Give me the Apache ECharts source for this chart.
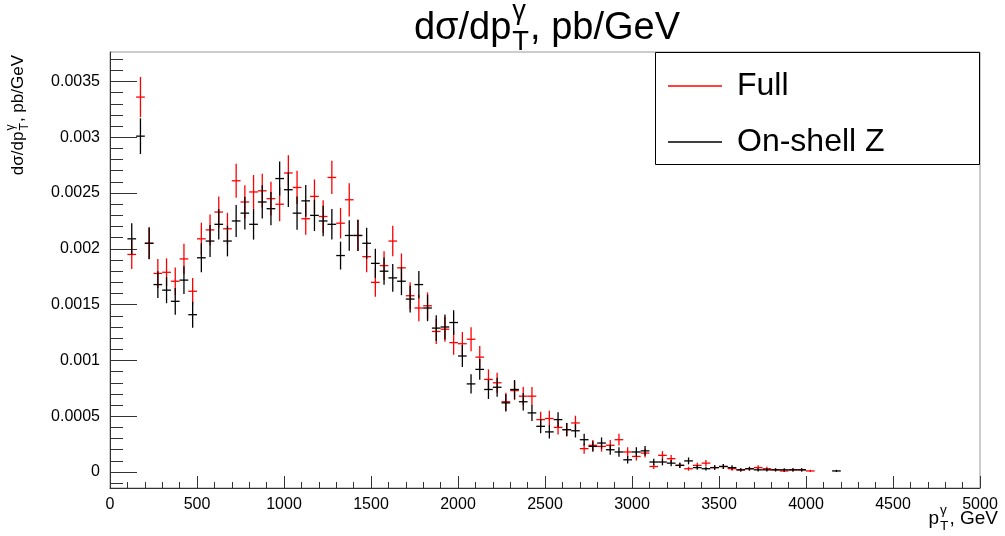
<!DOCTYPE html>
<html>
<head>
<meta charset="utf-8">
<script src="https://cdn.jsdelivr.net/npm/echarts@6/dist/echarts.min.js"></script>
<style>html,body{margin:0;padding:0;background:#fff}#c{width:1005px;height:536px}</style>
</head>
<body>
<div id="c"></div>
<script>
// ---- data (bin centers in GeV, bin width 50 GeV) ----
const binCenters = [
  125,175,225,275,325,375,425,475,525,575,
  625,675,725,775,825,875,925,975,1025,1075,
  1125,1175,1225,1275,1325,1375,1425,1475,1525,1575,
  1625,1675,1725,1775,1825,1875,1925,1975,2025,2075,
  2125,2175,2225,2275,2325,2375,2425,2475,2525,2575,
  2625,2675,2725,2775,2825,2875,2925,2975,3025,3075,
  3125,3175,3225,3275,3325,3375,3425,3475,3525,3575,
  3625,3675,3725,3775,3825,3875,3925,3975,4025,4075,
  4125,4175
];
const binWidth = 50;
const fullValues = [
  0.00195,0.00336,0.00205,0.00178,0.00179,0.00171,0.00191,0.00162,0.00209,0.00217,
  0.00233,0.00218,0.00261,0.00242,0.00251,0.00252,0.00245,0.00240,0.00268,0.00255,
  0.00227,0.00247,0.00229,0.00264,0.00223,0.00244,0.00212,0.00193,0.00170,0.00185,
  0.00207,0.00183,0.00158,0.00147,0.00149,0.00126,0.00128,0.00116,0.00115,0.00119,
  0.00103,0.00083,0.00080,0.00063,0.00073,0.00068,0.00068,0.00047,0.00048,0.00040,
  0.00038,0.00044,0.00021,0.00024,0.00023,0.00024,0.00029,0.00018,0.00014,0.00017,
  0.00005,0.00015,0.00012,0.00006,0.00003,0.00006,0.00008,0.00004,0.00005,0.00003,
  0.00002,0.00003,0.00004,0.00003,0.00002,0.00001,0.00002,0.00002,0.00001,null,
  null,null
];
const fullErrors = [
  0.00013,0.00018,0.00014,0.00013,0.000125,0.000123,0.000135,0.00012,0.000143,0.000137,
  0.00014,0.000143,0.000152,0.000149,0.000152,0.000152,0.000152,0.000152,0.000158,0.000149,
  0.000143,0.000152,0.000145,0.000149,0.000137,0.000149,0.00014,0.00014,0.000128,0.000128,
  0.000137,0.000128,0.00012,0.000119,0.00012,0.000112,0.000112,0.000108,0.000105,0.000108,
  0.0001,0.00009,0.00009,0.00008,0.000085,0.000082,0.000082,0.00007,0.00007,0.000063,
  0.00006,0.000065,0.000045,0.000048,0.000047,0.000048,0.000053,0.000042,0.000037,0.00004,
  0.000022,0.000038,0.000034,0.000024,0.000018,0.000024,0.000028,0.00002,0.000022,0.000018,
  0.000014,0.000017,0.00002,0.000017,0.000014,0.00001,0.000014,0.000014,0.00001,null,
  null,null
];
const zValues = [
  0.00209,0.00301,0.00205,0.00168,0.00163,0.00153,0.00172,0.00141,0.00192,0.00207,
  0.00222,0.00207,0.00225,0.00232,0.00222,0.00242,0.00236,0.00263,0.00253,0.00232,
  0.00243,0.00230,0.00225,0.00222,0.00194,0.00212,0.00212,0.00205,0.00187,0.00180,
  0.00174,0.00171,0.00155,0.00168,0.00147,0.00129,0.00130,0.00134,0.00104,0.00079,
  0.00092,0.00074,0.00076,0.00062,0.00074,0.00063,0.00053,0.00041,0.00036,0.00047,
  0.00038,0.00037,0.00029,0.00023,0.00026,0.00020,0.00018,0.00011,0.00018,0.00019,
  0.00009,0.00009,0.00008,0.00006,0.00010,0.00004,0.00003,0.00004,0.00005,0.00004,
  0.00002,0.00003,0.00002,0.00002,0.00002,0.00002,0.00002,0.00002,null,null,
  null,0.00001
];
const zErrors = [
  0.00014,0.00016,0.000143,0.00012,0.000117,0.00012,0.000125,0.000117,0.00013,0.000143,
  0.000137,0.000137,0.000143,0.000146,0.000137,0.000149,0.000149,0.000152,0.000155,0.000149,
  0.000143,0.00014,0.000137,0.000137,0.000125,0.000137,0.00014,0.00014,0.000131,0.000122,
  0.000125,0.000125,0.00012,0.000122,0.000118,0.000115,0.000112,0.00011,0.000099,0.000087,
  0.000093,0.000085,0.000085,0.000078,0.000085,0.000078,0.000072,0.000063,0.000059,0.000067,
  0.00006,0.00006,0.000053,0.000047,0.00005,0.000044,0.000042,0.000033,0.000042,0.000043,
  0.00003,0.00003,0.000028,0.000024,0.000031,0.00002,0.000017,0.00002,0.000022,0.00002,
  0.000014,0.000017,0.000014,0.000014,0.000014,0.000014,0.000014,0.000014,null,null,
  null,0.00001
];
const yMajorTicks = [0,0.0005,0.001,0.0015,0.002,0.0025,0.003,0.0035];
const yMinorTicks = [-0.0001,0,0.0001,0.0002,0.0003,0.0004,0.0005,0.0006,0.0007,0.0008,0.0009,0.001,
  0.0011,0.0012,0.0013,0.0014,0.0015,0.0016,0.0017,0.0018,0.0019,0.002,0.0021,0.0022,0.0023,0.0024,
  0.0025,0.0026,0.0027,0.0028,0.0029,0.003,0.0031,0.0032,0.0033,0.0034,0.0035,0.0036,0.0037];
const seriesNames = ['Full','On-shell Z'];
const seriesColors = ['#ff0000','#000000'];

// ---- helpers ----
const FONT = '"Liberation Sans", Arial, sans-serif';
const mctx = document.createElement('canvas').getContext('2d');
function tw(s, size){ mctx.font = size + 'px ' + FONT; return mctx.measureText(s).width; }
function buildLabel(parts, size){
  let x = 0; const children = [];
  const ss = size * 0.72;
  parts.forEach(p => {
    if (p.text !== undefined) {
      children.push({type:'text', x:x, y:0, style:{text:p.text, font:size+'px '+FONT, fill:'#000', align:'left', verticalAlign:'middle'}});
      x += tw(p.text, size);
    } else {
      children.push({type:'text', x:x+1, y:-0.45*size, style:{text:p.sup, font:ss+'px '+FONT, fill:'#000', align:'left', verticalAlign:'middle'}});
      children.push({type:'text', x:x+1, y:0.36*size, style:{text:p.sub, font:ss+'px '+FONT, fill:'#000', align:'left', verticalAlign:'middle'}});
      x += Math.max(tw(p.sup, ss), tw(p.sub, ss)) + 2;
    }
  });
  return {children, width:x};
}

function makeData(vals, errs){
  const out = [];
  for (let i = 0; i < binCenters.length; i++) {
    if (vals[i] === null) continue;
    out.push([binCenters[i], vals[i], errs[i]]);
  }
  return out;
}
function errRender(color){
  return function(params, api){
    const x = api.value(0), v = api.value(1), e = api.value(2);
    const hw = binWidth / 2;
    const l = api.coord([x - hw, v]), r = api.coord([x + hw, v]);
    const t = api.coord([x, v + e]), b = api.coord([x, v - e]);
    return {type:'group', children:[
      {type:'line', shape:{x1:l[0], y1:l[1], x2:r[0], y2:r[1]}, style:{stroke:color, lineWidth:1.3}},
      {type:'line', shape:{x1:t[0], y1:t[1], x2:b[0], y2:b[1]}, style:{stroke:color, lineWidth:1.3}}
    ]};
  };
}

const yMin = -0.0001428, yMax = 0.003764;

const chart = echarts.init(document.getElementById('c'), null, {renderer:'canvas'});

const titleLbl = buildLabel([{text:'dσ/dp'},{sup:'γ',sub:'T'},{text:', pb/GeV'}], 38);
const yLbl = buildLabel([{text:'dσ/dp'},{sup:'γ',sub:'T'},{text:', pb/GeV'}], 17);
const xLbl = buildLabel([{text:'p'},{sup:'γ',sub:'T'},{text:', GeV'}], 19);

const graphics = [
  {type:'group', x: 547 - titleLbl.width/2, y: 29, children: titleLbl.children},
  {type:'group', x: 18, y: 55 + yLbl.width, rotation: Math.PI/2, children: yLbl.children},
  {type:'group', x: 998 - xLbl.width, y: 519, children: xLbl.children},
  {type:'rect', shape:{x:655.5, y:52.5, width:324, height:112}, style:{fill:'#fff', stroke:'#000', lineWidth:1}, z:10},
  {type:'line', shape:{x1:668, y1:86, x2:722, y2:86}, style:{stroke:seriesColors[0], lineWidth:1.3}, z:11},
  {type:'line', shape:{x1:668, y1:142, x2:722, y2:142}, style:{stroke:seriesColors[1], lineWidth:1.3}, z:11},
  {type:'text', x:737, y:86, style:{text:seriesNames[0], font:'32px '+FONT, fill:'#000', verticalAlign:'middle'}, z:11},
  {type:'text', x:737, y:142, style:{text:seriesNames[1], font:'32px '+FONT, fill:'#000', verticalAlign:'middle'}, z:11}
];

chart.setOption({
  animation:false,
  backgroundColor:'#fff',
  grid:{left:110, right:25, top:52, bottom:48, show:true, borderColor:'#999', borderWidth:1, backgroundColor:'transparent'},
  xAxis:{
    type:'value', min:0, max:5000, interval:500,
    axisLine:{show:true, onZero:false, lineStyle:{color:'#333', width:1}},
    axisTick:{show:true, inside:true, length:12, lineStyle:{color:'#333'}},
    minorTick:{show:true, splitNumber:5, length:6, lineStyle:{color:'#333'}},
    splitLine:{show:false},
    axisLabel:{color:'#000', fontSize:16, fontFamily:FONT, margin:9, formatter: v => String(v)}
  },
  yAxis:[{
    type:'value', min:yMin, max:yMax,
    axisLine:{show:true, onZero:false, lineStyle:{color:'#333', width:1}},
    axisTick:{show:true, inside:true, length:27, customValues:yMajorTicks, lineStyle:{color:'#333'}},
    splitLine:{show:false},
    axisLabel:{color:'#000', fontSize:16, fontFamily:FONT, margin:10, customValues:yMajorTicks,
      formatter: v => String(v)}
  },{
    type:'value', min:yMin, max:yMax, position:'left',
    axisLine:{show:false},
    axisTick:{show:true, inside:true, length:13, customValues:yMinorTicks, lineStyle:{color:'#333'}},
    splitLine:{show:false},
    axisLabel:{show:false}
  }],
  graphic: graphics,
  series:[
    {type:'custom', name:seriesNames[0], renderItem:errRender(seriesColors[0]), data:makeData(fullValues, fullErrors),
     encode:{x:0, y:1}, clip:false, z:2},
    {type:'custom', name:seriesNames[1], renderItem:errRender(seriesColors[1]), data:makeData(zValues, zErrors),
     encode:{x:0, y:1}, clip:false, z:3}
  ]
});
</script>
</body>
</html>
